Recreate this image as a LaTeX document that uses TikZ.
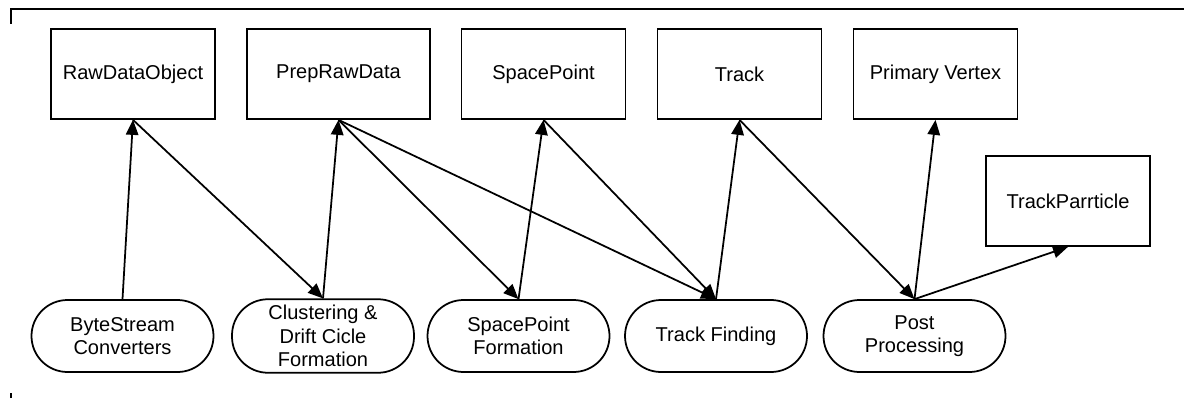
\documentclass[tikz,border=0pt]{standalone}
\usepackage{fontspec}
\setmainfont{Liberation Sans}
\usetikzlibrary{arrows.meta}
\begin{document}
\begin{tikzpicture}[font=\fontsize{11.4}{13.4}\selectfont,line width=1pt,
		data/.style={draw,minimum width=3.28cm,minimum height=1.8cm},
		algo/.style={draw,rounded corners=0.72cm,minimum width=3.64cm,minimum height=1.44cm,align=center},
		>={Triangle[length=3mm,width=2.5mm]}]
		\useasboundingbox (0,0) rectangle (23.68,7.96);
		\draw [line width=1.6pt] (0.22,7.48) -- (0.22,7.78) -- (23.68,7.78);
		\draw [line width=1.6pt] (0.22,0) -- (0.22,0.1);
		\node [data] (rdo) at (2.66,6.48) {RawDataObject};
		\node [data,minimum width=3.66cm] (prd) at (6.77,6.48) {PrepRawData};
		\node [data] (sp) at (10.87,6.48) {SpacePoint};
		\node [data] (trk) at (14.79,6.48) {Track};
		\node [data] (pv) at (18.71,6.48) {Primary Vertex};
		\node [data] (tp) at (21.36,3.94) {TrackParrticle};
		\node [algo] (bsc) at (2.45,1.24) {ByteStream\\Converters};
		\node [algo] (clu) at (6.46,1.24) {Clustering \&\\Drift Cicle\\Formation};
		\node [algo] (spf) at (10.37,1.24) {SpacePoint\\Formation};
		\node [algo] (tf) at (14.32,1.24) {Track Finding};
		\node [algo] (pp) at (18.29,1.24) {Post\\Processing};
		\draw [->] (bsc.north) -- (rdo.south);
		\draw [->] (rdo.south) -- (clu.north);
		\draw [->] (clu.north) -- (prd.south);
		\draw [->] (prd.south) -- (spf.north);
		\draw [->] (prd.south) -- (tf.north);
		\draw [->] (spf.north) -- (sp.south);
		\draw [->] (sp.south) -- (tf.north);
		\draw [->] (tf.north) -- (trk.south);
		\draw [->] (trk.south) -- (pp.north);
		\draw [->] (pp.north) -- (pv.south);
		\draw [->] (pp.north) -- (tp.south);
	\end{tikzpicture}
\end{document}
